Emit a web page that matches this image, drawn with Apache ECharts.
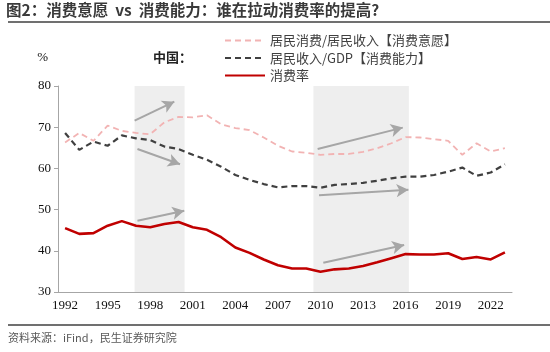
<!DOCTYPE html>
<html>
<head>
<meta charset="utf-8">
<script src="https://cdn.jsdelivr.net/npm/echarts@6/dist/echarts.min.js"></script>
<style>
  html, body { margin: 0; padding: 0; background: #fff; }
  #main { width: 550px; height: 352px; }
</style>
</head>
<body>
<div id="main"></div>
<script>
const years = [];
for (let y = 1992; y <= 2023; y++) years.push(String(y));

// 居民消费/居民收入
const willingness = [66.3, 68.6, 66.7, 70.4, 69.1, 68.6, 68.3, 71.2, 72.5, 72.4, 72.9, 70.7, 69.8, 69.3, 67.5, 65.5,
  64.1, 63.8, 63.3, 63.5, 63.5, 64.0, 64.9, 66.1, 67.6, 67.5, 67.1, 66.7, 63.3, 66.1, 64.1, 64.9];
// 居民收入/GDP
const ability = [68.6, 64.5, 66.5, 65.5, 68.0, 67.3, 66.9, 65.3, 64.7, 63.3, 62.1, 60.4, 58.4, 57.2, 56.2, 55.4,
  55.7, 55.7, 55.3, 56.0, 56.2, 56.5, 57.0, 57.6, 58.0, 58.0, 58.4, 59.2, 60.2, 58.2, 59.0, 61.0];
// 消费率
const consRate = [45.5, 44.1, 44.3, 46.1, 47.2, 46.1, 45.7, 46.5, 47.0, 45.7, 45.1, 43.3, 40.8, 39.5, 37.9, 36.5,
  35.7, 35.7, 34.9, 35.5, 35.7, 36.3, 37.2, 38.2, 39.2, 39.1, 39.1, 39.4, 38.0, 38.5, 37.9, 39.6];

// shaded periods, in years along the axis
const bands = [[1996.9, 2000.42], [2009.5, 2016.23]];
// trend arrows [x1, y1, x2, y2]
const arrows = [
  [1996.9, 71.6, 1999.7, 76.2],
  [1997.1, 64.7, 2000.1, 61.0],
  [1997.1, 47.3, 2000.4, 49.7],
  [2009.8, 64.7, 2015.8, 69.9],
  [2009.9, 53.5, 2016.2, 54.8],
  [2010.2, 37.1, 2015.9, 41.4]
];

const serif = '"Liberation Serif", "Times New Roman", "Noto Sans CJK SC", serif';
const cjk = '"Noto Sans CJK SC", sans-serif';

const chart = echarts.init(document.getElementById('main'));
chart.setOption({
  animation: false,
  grid: { left: 58, right: 38, top: 86, bottom: 60 },
  legend: {
    orient: 'vertical',
    left: 219,
    top: 29,
    itemWidth: 40,
    itemHeight: 14,
    itemGap: 4.5,
    itemStyle: { opacity: 0 },
    textStyle: { fontFamily: cjk, fontSize: 13, color: '#404040' },
    data: ['居民消费/居民收入【消费意愿】', '居民收入/GDP【消费能力】', '消费率']
  },
  graphic: [
    { type: 'text', left: 6, top: 2, style: { text: '图2：消费意愿  vs  消费能力：谁在拉动消费率的提高?', font: 'bold 15.5px ' + cjk, fill: '#3a3a3a' } },
    { type: 'line', shape: { x1: 8, y1: 22, x2: 550, y2: 22 }, style: { stroke: '#404040', lineWidth: 1.5 } },
    { type: 'text', left: 153, top: 51, style: { text: '中国：', font: 'bold 13px ' + cjk, fill: '#222' } },
    { type: 'line', shape: { x1: 8, y1: 325, x2: 550, y2: 325 }, style: { stroke: '#404040', lineWidth: 1.5 } },
    { type: 'text', left: 8, top: 332, style: { text: '资料来源：iFind，民生证券研究院', font: '11px ' + cjk, fill: '#595959' } }
  ],
  xAxis: [{
    type: 'category',
    data: years,
    boundaryGap: true,
    axisLine: { lineStyle: { color: '#a6a6a6' } },
    axisTick: { interval: 2, length: 4, lineStyle: { color: '#a6a6a6' } },
    axisLabel: { interval: 2, margin: 7, fontFamily: serif, fontSize: 13, color: '#111' }
  }, {
    type: 'value',
    min: 1991.5,
    max: 2023.5,
    show: false
  }],
  yAxis: {
    type: 'value',
    min: 30,
    max: 80,
    interval: 10,
    name: '%',
    nameGap: 22,
    nameTextStyle: { fontFamily: serif, fontSize: 13, color: '#111', align: 'right', padding: [0, 10, 0, 0] },
    splitLine: { show: false },
    axisLine: { show: true, lineStyle: { color: '#a6a6a6' } },
    axisTick: { show: true, length: 4, lineStyle: { color: '#a6a6a6' } },
    axisLabel: { margin: 7, fontFamily: serif, fontSize: 13, color: '#111' }
  },
  series: [
    {
      name: '居民消费/居民收入【消费意愿】',
      type: 'line',
      data: willingness,
      symbol: 'none',
      z: 2,
      lineStyle: { color: '#f2b3b3', width: 1.8, type: [6, 4] },
      itemStyle: { color: '#f2b3b3' }
    },
    {
      name: '居民收入/GDP【消费能力】',
      type: 'line',
      data: ability,
      symbol: 'none',
      z: 2,
      lineStyle: { color: '#404040', width: 2.2, type: [6, 4] },
      itemStyle: { color: '#404040' }
    },
    {
      name: '消费率',
      type: 'line',
      data: consRate,
      symbol: 'none',
      z: 2,
      lineStyle: { color: '#c00000', width: 2.6 },
      itemStyle: { color: '#c00000' }
    },
    {
      type: 'line',
      xAxisIndex: 1,
      data: [],
      z: 5,
      silent: true,
      markArea: {
        silent: true,
        itemStyle: { color: 'rgba(205,205,205,0.35)' },
        data: bands.map(b => [{ xAxis: b[0], yAxis: 80 }, { xAxis: b[1], yAxis: 30 }])
      }
    },
    {
      type: 'line',
      xAxisIndex: 1,
      data: [],
      z: 6,
      silent: true,
      markLine: {
        silent: true,
        symbol: ['none', 'arrow'],
        symbolSize: [10, 12],
        label: { show: false },
        lineStyle: { color: '#a6a6a6', width: 2, type: 'solid' },
        data: arrows.map(a => [{ coord: [a[0], a[1]] }, { coord: [a[2], a[3]] }])
      }
    }
  ]
});
</script>
</body>
</html>
